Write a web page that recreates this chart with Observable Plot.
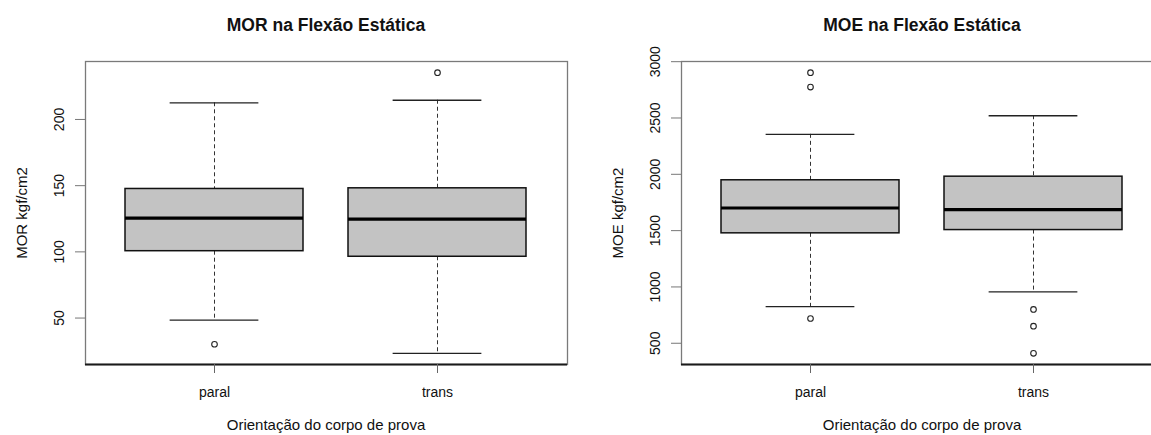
<!DOCTYPE html>
<html><head><meta charset="utf-8">
<script src="https://cdn.jsdelivr.net/npm/d3@7"></script>
<script src="https://cdn.jsdelivr.net/npm/@observablehq/plot@0.6"></script>
<style>
html,body{margin:0;padding:0;background:#fff;overflow:hidden;width:1151px;height:435px;}
#wrap{position:relative;width:1151px;height:435px;overflow:hidden;font-family:"Liberation Sans",Arial,sans-serif;color:#111;}
.panel{position:absolute;top:0;width:600px;height:435px;}
.panel svg{max-width:none;display:block;}
.title{position:absolute;font-weight:bold;font-size:17.5px;line-height:20px;white-space:nowrap;transform:translateX(-50%);}
.xlab{position:absolute;font-size:15px;line-height:17px;white-space:nowrap;transform:translateX(-50%);}
.ylab{position:absolute;font-size:15px;line-height:17px;white-space:nowrap;transform:translate(-50%,-50%) rotate(-90deg);}
</style></head><body><div id="wrap"></div>
<script>
// Categories
const groups = ["paral", "trans"];

// MOR (kgf/cm2) box statistics per group
const morLow = [48.5, 23.4];
const morQ1 = [100.5, 96.3];
const morMedian = [125.5, 124.7];
const morQ3 = [147.5, 148.0];
const morHigh = [212.6, 214.5];
const morOutlierGroup = ["paral", "trans"];
const morOutlierValue = [30.2, 235.3];
const morTicks = [50, 100, 150, 200];

// MOE (kgf/cm2) box statistics per group
const moeLow = [826, 956];
const moeQ1 = [1476, 1505];
const moeMedian = [1701, 1686];
const moeQ3 = [1947, 1979];
const moeHigh = [2355, 2520];
const moeOutlierGroup = ["paral", "paral", "paral", "trans", "trans", "trans"];
const moeOutlierValue = [2902, 2775, 720, 800, 652, 411];
const moeTicks = [500, 1000, 1500, 2000, 2500, 3000];

const xTitle = "Orientação do corpo de prova";

const W = 600, ML = 85, PW = 482, MT = 61, MB = 71, H = 435;
const FONT = "'Liberation Sans', Arial, sans-serif";

function panel({left, title, ylabel, lo, q1, med, q3, hi, outG, outV, ticks}) {
  const boxes = groups.map((g, i) => ({g, lo: lo[i], q1: q1[i], med: med[i], q3: q3[i], hi: hi[i]}));
  const outs = outG.map((g, i) => ({g, v: outV[i]}));
  const all = [...lo, ...hi, ...outV];
  const mn = d3.min(all), mx = d3.max(all), pad = (mx - mn) * 0.04;
  const bandwidth = PW / 2.16 * 0.8;
  const capInset = bandwidth * 0.25;
  const chart = Plot.plot({
    width: W, height: H,
    marginLeft: ML, marginRight: W - ML - PW, marginTop: MT, marginBottom: MB,
    style: {fontFamily: FONT, fontSize: "14px", color: "#111", background: "transparent", overflow: "visible", maxWidth: "none"},
    x: {type: "band", domain: groups, paddingInner: 0.2, paddingOuter: 0.18},
    y: {domain: [mn - pad, mx + pad]},
    marks: [
      Plot.frame({stroke: "#7a7a7a", strokeWidth: 1.3}),
      Plot.ruleX(boxes, {x: "g", y1: "hi", y2: "q3", stroke: "#333", strokeWidth: 1, strokeDasharray: "4,3"}),
      Plot.ruleX(boxes, {x: "g", y1: "q1", y2: "lo", stroke: "#333", strokeWidth: 1, strokeDasharray: "4,3"}),
      Plot.tickY(boxes, {x: "g", y: "hi", insetLeft: capInset, insetRight: capInset, stroke: "#222", strokeWidth: 1.3}),
      Plot.tickY(boxes, {x: "g", y: "lo", insetLeft: capInset, insetRight: capInset, stroke: "#222", strokeWidth: 1.3}),
      Plot.barY(boxes, {x: "g", y1: "q1", y2: "q3", fill: "#c3c3c3", stroke: "#111", strokeWidth: 1.5}),
      Plot.tickY(boxes, {x: "g", y: "med", stroke: "#000", strokeWidth: 3.2}),
      Plot.dot(outs, {x: "g", y: "v", r: 2.8, stroke: "#222", fill: "white", strokeWidth: 1.1}),
      Plot.ruleY([mn - pad], {stroke: "#1a1a1a", strokeWidth: 2}),
      Plot.axisY({ticks, tickFormat: d3.format("d"), tickSize: 10, tickRotate: -90, tickPadding: 12, label: null, stroke: "#777"}),
      Plot.axisX({tickSize: 9, tickPadding: 14, label: null, stroke: "#666"})
    ]
  });
  const div = document.createElement("div");
  div.className = "panel";
  div.style.left = left + "px";
  div.appendChild(chart);
  const t = document.createElement("div");
  t.className = "title"; t.textContent = title;
  t.style.left = (ML + PW / 2) + "px"; t.style.top = "14.6px";
  div.appendChild(t);
  const xl = document.createElement("div");
  xl.className = "xlab"; xl.textContent = xTitle;
  xl.style.left = (ML + PW / 2) + "px"; xl.style.top = "416px";
  div.appendChild(xl);
  const yl = document.createElement("div");
  yl.className = "ylab"; yl.textContent = ylabel;
  yl.style.left = "21px"; yl.style.top = (MT + (H - MT - MB) / 2) + "px";
  div.appendChild(yl);
  document.getElementById("wrap").appendChild(div);
}

panel({left: 0, title: "MOR na Flexão Estática", ylabel: "MOR kgf/cm2",
  lo: morLow, q1: morQ1, med: morMedian, q3: morQ3, hi: morHigh,
  outG: morOutlierGroup, outV: morOutlierValue, ticks: morTicks});
panel({left: 596, title: "MOE na Flexão Estática", ylabel: "MOE kgf/cm2",
  lo: moeLow, q1: moeQ1, med: moeMedian, q3: moeQ3, hi: moeHigh,
  outG: moeOutlierGroup, outV: moeOutlierValue, ticks: moeTicks});
</script></body></html>
